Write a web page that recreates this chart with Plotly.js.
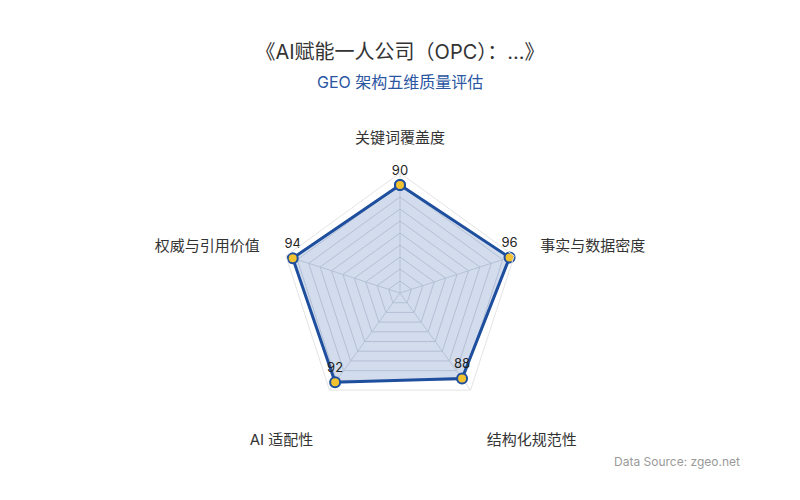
<!DOCTYPE html>
<html>
<head>
<meta charset="utf-8">
<script src="https://cdn.plot.ly/plotly-3.0.1.min.js"></script>
<style>
  html, body { margin: 0; padding: 0; background: #fff; }
  #chart { width: 800px; height: 500px; }
</style>
</head>
<body>
<div id="chart"></div>
<script>
var dimensions = ["关键词覆盖度", "事实与数据密度", "结构化规范性", "AI 适配性", "权威与引用价值"];
var scores = [90, 96, 88, 92, 94];
var maxScore = 100;

var fontFamily = "Inter, 'Noto Sans CJK SC', sans-serif";

window.onload = function() {
  // close the polygon by repeating the first point
  var theta = dimensions.concat([dimensions[0]]);
  var r = scores.concat([scores[0]]);

  // the two lower names sit further out, so push them down a line
  var tickText = dimensions.map(function(d, i) {
    return (i == 2 || i == 3) ? "<br>" + d : d;
  });

  var trace = {
    type: "scatterpolar",
    r: r,
    theta: theta,
    mode: "lines+markers+text",
    text: scores.map(String).concat([""]),
    textposition: "top center",
    textfont: { family: fontFamily, size: 13, color: "#222" },
    fill: "toself",
    fillcolor: "rgba(30,78,158,0.2)",
    line: { color: "#1e4e9e", width: 3 },
    marker: { size: 10, color: "#f2c230", line: { color: "#1e4e9e", width: 2 } },
    cliponaxis: false,
    hoverinfo: "skip"
  };

  var layout = {
    width: 800,
    height: 500,
    margin: { l: 80, r: 80, t: 173, b: 87 },
    paper_bgcolor: "#fff",
    showlegend: false,
    font: { family: fontFamily, color: "#333" },
    title: {
      text: "《AI赋能一人公司（OPC）：...》",
      font: { family: fontFamily, size: 20, color: "#333" },
      x: 0.5, xanchor: "center",
      y: 0.896, yref: "container", yanchor: "middle"
    },
    annotations: [
      {
        text: "GEO 架构五维质量评估",
        xref: "paper", yref: "paper", x: 0.5, y: 1.378,
        xanchor: "center", yanchor: "middle", showarrow: false,
        font: { family: fontFamily, size: 16, color: "#2b56a2" }
      },
      {
        text: "Data Source: zgeo.net",
        xref: "paper", yref: "paper", x: 1.034, y: -0.2,
        xanchor: "right", yanchor: "middle", showarrow: false,
        font: { family: fontFamily, size: 12, color: "#9a9a9a" }
      }
    ],
    polar: {
      gridshape: "linear",
      bgcolor: "#fff",
      domain: { x: [0, 1], y: [0, 1] },
      radialaxis: {
        range: [0, maxScore],
        dtick: 10,
        showticklabels: false,
        ticks: "",
        showline: false,
        gridcolor: "#d9dce3",
        gridwidth: 1
      },
      angularaxis: {
        rotation: 90,
        direction: "clockwise",
        tickmode: "array",
        tickvals: dimensions,
        ticktext: tickText,
        ticks: "outside",
        ticklen: 24,
        tickcolor: "rgba(0,0,0,0)",
        tickfont: { family: fontFamily, size: 15, color: "#333" },
        showline: true,
        linecolor: "#e4e4e4",
        linewidth: 1,
        gridcolor: "#dcdfe5"
      }
    }
  };

  Plotly.newPlot("chart", [trace], layout, { displayModeBar: false, staticPlot: true });
};
</script>
</body>
</html>
